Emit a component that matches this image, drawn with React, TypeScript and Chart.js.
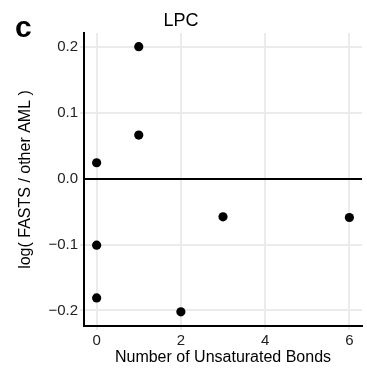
import React, { useEffect, useRef } from "react";
import { Chart, registerables } from "chart.js";

Chart.register(...registerables);

const panelLabel = "c";
const chartTitle = "LPC";
const xTitle = "Number of Unsaturated Bonds";
const yTitle = "log( FASTS / other AML )";

const bonds = [0, 0, 0, 1, 1, 2, 3, 6];
const logRatio = [0.024, -0.101, -0.181, 0.2, 0.066, -0.202, -0.058, -0.059];

const xTicks = [0, 2, 4, 6];
const yTicks = [-0.2, -0.1, 0.0, 0.1, 0.2];
const xRange = [-0.3, 6.3];
const yRange = [-0.2235, 0.2207];

const FONT = "'Liberation Sans', Arial, Helvetica, sans-serif";

const fmt = (v: number) => {
  const s = Math.abs(v).toFixed(1);
  return v < -1e-9 ? "\u2212" + s : s;
};

export default function App() {
  const ref = useRef<HTMLCanvasElement | null>(null);

  useEffect(() => {
    if (!ref.current) return;
    const data = bonds.map((b, i) => ({ x: b, y: logRatio[i] }));

    const panelPlugin = {
      id: "panelLabel",
      afterDraw(chart: any) {
        const ctx = chart.ctx;
        ctx.save();
        ctx.fillStyle = "#000";
        ctx.font = `bold 30px ${FONT}`;
        ctx.textAlign = "left";
        ctx.textBaseline = "alphabetic";
        ctx.fillText(panelLabel, 15, 36.5);
        ctx.restore();
      },
    };

    const chart = new Chart(ref.current, {
      type: "scatter",
      data: {
        datasets: [
          {
            data,
            backgroundColor: "#000",
            borderColor: "#000",
            borderWidth: 0,
            pointRadius: 4.6,
            pointHoverRadius: 4.6,
          },
        ],
      },
      options: {
        responsive: false,
        animation: false,
        layout: { padding: { left: 0, right: 5, top: 0, bottom: 0 } },
        plugins: {
          legend: { display: false },
          tooltip: { enabled: false },
          title: {
            display: true,
            text: chartTitle,
            color: "#000",
            font: { family: FONT, size: 18, weight: "normal" as any, lineHeight: 1.2 },
            padding: { top: 10.5, bottom: 0.9 },
          },
        },
        scales: {
          x: {
            type: "linear",
            min: xRange[0],
            max: xRange[1],
            afterBuildTicks: (s: any) => {
              s.ticks = xTicks.map((v) => ({ value: v }));
            },
            afterFit: (s: any) => {
              s.height = 53;
            },
            ticks: {
              color: "#222",
              font: { family: FONT, size: 15 },
              padding: 2,
              callback: (v: any) => String(v),
            },
            grid: {
              color: "#ebebeb",
              lineWidth: 2,
              drawTicks: true,
              tickLength: 4,
              tickColor: "#ebebeb",
            },
            border: { display: true, color: "#000", width: 2 },
            title: {
              display: true,
              text: xTitle,
              color: "#000",
              font: { family: FONT, size: 16, lineHeight: 1.2 },
              padding: { top: 0, bottom: 12 },
            },
          },
          y: {
            type: "linear",
            min: yRange[0],
            max: yRange[1],
            afterBuildTicks: (s: any) => {
              s.ticks = yTicks.map((v) => ({ value: v }));
            },
            afterFit: (s: any) => {
              s.width = 84;
            },
            ticks: {
              color: "#222",
              font: { family: FONT, size: 15 },
              padding: 2,
              callback: (v: any) => fmt(Number(v)),
            },
            grid: {
              color: (c: any) => (c.tick && Math.abs(c.tick.value) < 1e-9 ? "#000" : "#ebebeb"),
              lineWidth: 2,
              drawTicks: true,
              tickLength: 4,
              tickColor: (c: any) => (c.tick && Math.abs(c.tick.value) < 1e-9 ? "rgba(0,0,0,0)" : "#ebebeb"),
            },
            border: { display: true, color: "#000", width: 2 },
            title: {
              display: true,
              text: yTitle,
              color: "#000",
              font: { family: FONT, size: 16, lineHeight: 1.2 },
              padding: { top: 16, bottom: 0 },
            },
          },
        },
      },
      plugins: [panelPlugin],
    });
    return () => chart.destroy();
  }, []);

  return (
    <div style={{ position: "fixed", left: 0, top: 0, width: 367, height: 379, background: "#fff" }}>
      <canvas ref={ref} width={367} height={379} style={{ display: "block" }} />
    </div>
  );
}
